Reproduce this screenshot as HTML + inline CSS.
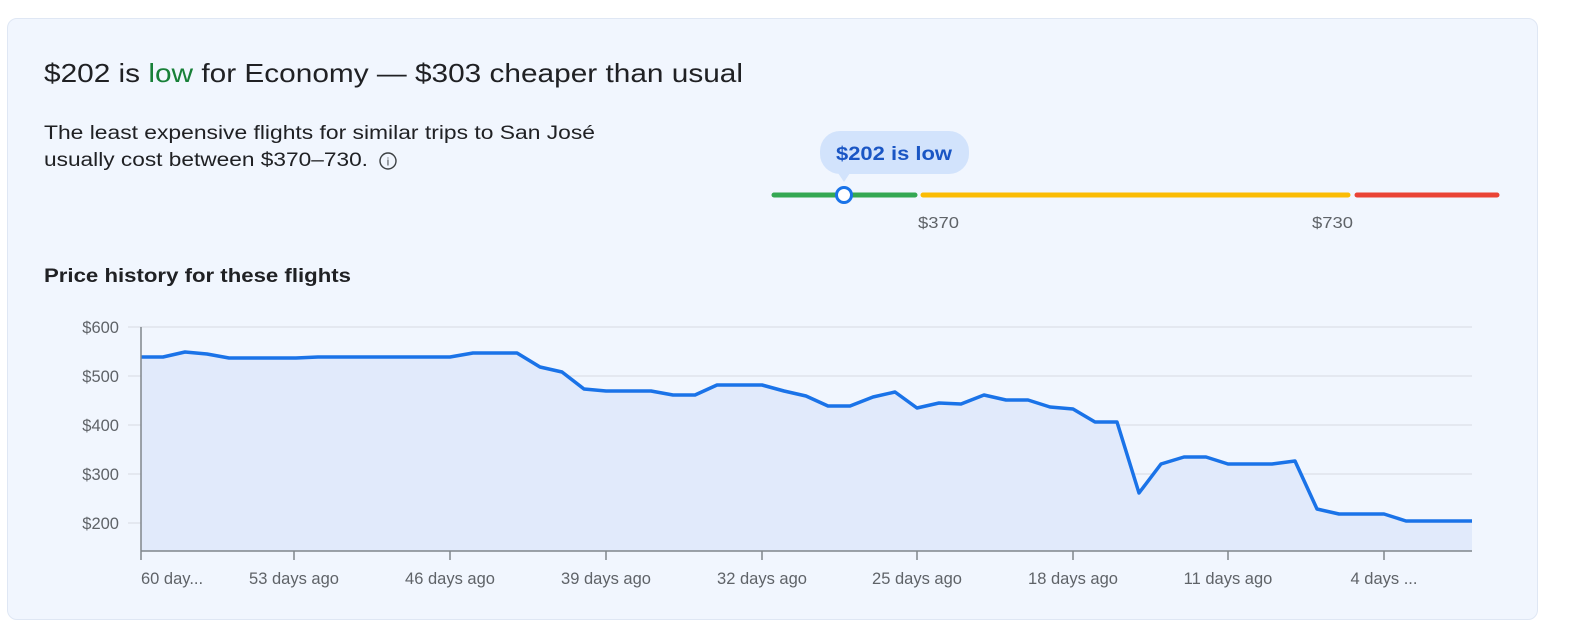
<!DOCTYPE html>
<html><head><meta charset="utf-8"><style>
body{margin:0;background:#fff;font-family:"Liberation Sans",sans-serif;}
.card{position:absolute;left:7px;top:18px;width:1529px;height:600px;background:#f1f6fe;border:1px solid #dfe7f4;border-radius:10px;}
</style></head><body>
<div class="card"></div>
<svg width="1572" height="644" style="position:absolute;left:0;top:0" font-family="Liberation Sans, sans-serif">
<text x="44" y="82" font-size="26" fill="#202124" textLength="699" lengthAdjust="spacingAndGlyphs">$202 is <tspan fill="#188038">low</tspan> for Economy — $303 cheaper than usual</text>
<text x="44" y="139" font-size="19" fill="#202124" textLength="551" lengthAdjust="spacingAndGlyphs">The least expensive flights for similar trips to San José</text>
<text x="44" y="166" font-size="19" fill="#202124" textLength="324" lengthAdjust="spacingAndGlyphs">usually cost between $370–730.</text>
<circle cx="388" cy="161" r="8" fill="none" stroke="#3c4043" stroke-width="1.4"/>
<text x="388" y="165.5" font-size="11" text-anchor="middle" fill="#3c4043">i</text>
<rect x="820" y="131" width="149" height="43" rx="20" fill="#d2e3fc"/>
<path d="M838,173 L844,182 L850,173Z" fill="#d2e3fc"/>
<text x="836" y="160" font-size="19" font-weight="bold" fill="#1a56c4" textLength="116" lengthAdjust="spacingAndGlyphs">$202 is low</text>
<line x1="774" y1="195" x2="915" y2="195" stroke="#34a853" stroke-width="5" stroke-linecap="round"/>
<line x1="923" y1="195" x2="1348" y2="195" stroke="#fbbc04" stroke-width="5" stroke-linecap="round"/>
<line x1="1357" y1="195" x2="1497" y2="195" stroke="#ea4335" stroke-width="5" stroke-linecap="round"/>
<circle cx="844" cy="195" r="7.5" fill="#fff" stroke="#1a73e8" stroke-width="3"/>
<text x="918" y="228" font-size="16" fill="#5f6368" textLength="41" lengthAdjust="spacingAndGlyphs">$370</text>
<text x="1312" y="228" font-size="16" fill="#5f6368" textLength="41" lengthAdjust="spacingAndGlyphs">$730</text>
<text x="44" y="282" font-size="19" font-weight="bold" fill="#202124" textLength="307" lengthAdjust="spacingAndGlyphs">Price history for these flights</text>
<g stroke="#d6dbe3" stroke-width="1">
<line x1="128" y1="327" x2="1472" y2="327"/><line x1="128" y1="376" x2="1472" y2="376"/><line x1="128" y1="425" x2="1472" y2="425"/><line x1="128" y1="474" x2="1472" y2="474"/><line x1="128" y1="523" x2="1472" y2="523"/>
</g>
<g font-size="16.5" fill="#5f6368" text-anchor="end">
<text x="119" y="333">$600</text><text x="119" y="382">$500</text><text x="119" y="431">$400</text><text x="119" y="480">$300</text><text x="119" y="529">$200</text>
</g>
<path d="M141,357 163,357 185,352 207,354 229,358 296,358 318,357 450,357 473,353 517,353 540,367 562,372 584,389 606,391 651,391 673,395 695,395 717,385 762,385 784,391 806,396 828,406 850,406 873,397 895,392 917,408 939,403 961,404 984,395 1006,400 1028,400 1050,407 1073,409 1095,422 1117,422 1139,493 1161,464 1184,457 1206,457 1228,464 1272,464 1295,461 1317,509 1339,514 1384,514 1406,521 1472,521 L1472,551 L141,551Z" fill="#e1eafb"/>
<path d="M141,357 163,357 185,352 207,354 229,358 296,358 318,357 450,357 473,353 517,353 540,367 562,372 584,389 606,391 651,391 673,395 695,395 717,385 762,385 784,391 806,396 828,406 850,406 873,397 895,392 917,408 939,403 961,404 984,395 1006,400 1028,400 1050,407 1073,409 1095,422 1117,422 1139,493 1161,464 1184,457 1206,457 1228,464 1272,464 1295,461 1317,509 1339,514 1384,514 1406,521 1472,521" fill="none" stroke="#1a73e8" stroke-width="3.5" stroke-linejoin="round"/>
<g stroke="#80868b" stroke-width="1.5">
<line x1="141" y1="327" x2="141" y2="560"/><line x1="141" y1="551" x2="1472" y2="551"/>
<line x1="294" y1="551" x2="294" y2="560"/><line x1="450" y1="551" x2="450" y2="560"/><line x1="606" y1="551" x2="606" y2="560"/><line x1="762" y1="551" x2="762" y2="560"/><line x1="917" y1="551" x2="917" y2="560"/><line x1="1073" y1="551" x2="1073" y2="560"/><line x1="1228" y1="551" x2="1228" y2="560"/><line x1="1384" y1="551" x2="1384" y2="560"/>
</g>
<g font-size="16.5" fill="#5f6368" text-anchor="middle">
<text x="141" y="584" text-anchor="start">60 day...</text><text x="294" y="584">53 days ago</text><text x="450" y="584">46 days ago</text><text x="606" y="584">39 days ago</text><text x="762" y="584">32 days ago</text><text x="917" y="584">25 days ago</text><text x="1073" y="584">18 days ago</text><text x="1228" y="584">11 days ago</text><text x="1384" y="584">4 days ...</text>
</g>
</svg>
</body></html>
